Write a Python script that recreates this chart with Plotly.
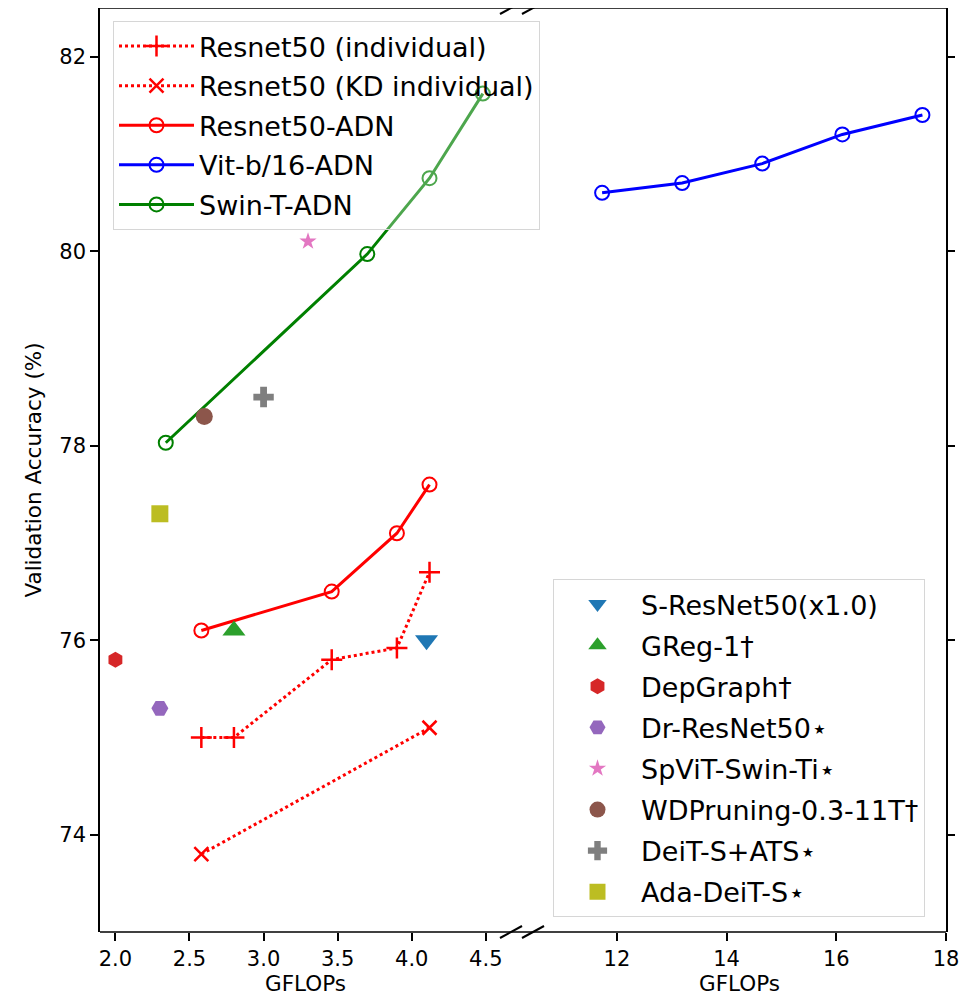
import plotly.graph_objects as go

# ---------------- data ----------------
res_ind_x = [2.58, 2.80, 3.46, 3.90, 4.12]
res_ind_y = [75.0, 75.0, 75.8, 75.92, 76.7]

res_kd_x = [2.58, 4.12]
res_kd_y = [73.8, 75.1]

res_adn_x = [2.58, 3.46, 3.90, 4.12]
res_adn_y = [76.1, 76.5, 77.1, 77.6]

vit_adn_x = [11.73, 13.19, 14.65, 16.11, 17.57]
vit_adn_y = [80.6, 80.7, 80.9, 81.2, 81.4]

swin_adn_x = [2.34, 3.70, 4.12, 4.48]
swin_adn_y = [78.03, 79.97, 80.75, 81.62]

other_names = ["S-ResNet50(x1.0)", "GReg-1†", "DepGraph†", "Dr-ResNet50⋆",
               "SpViT-Swin-Ti⋆", "WDPruning-0.3-11T†", "DeiT-S+ATS⋆", "Ada-DeiT-S⋆"]
other_x = [4.10, 2.80, 2.00, 2.30, 3.30, 2.60, 3.00, 2.30]
other_y = [76.0, 76.1, 75.8, 75.3, 80.1, 78.3, 78.5, 77.3]
other_symbols = ["triangle-down", "triangle-up", "hexagon", "hexagon2",
                 "star", "circle", "cross", "square"]
other_colors = ["#1f77b4", "#2ca02c", "#d62728", "#9467bd",
                "#e377c2", "#8c564b", "#7f7f7f", "#bcbd22"]
other_sizes = [20, 20, 16, 17, 13, 17, 17, 17]

left_ticks = [2.0, 2.5, 3.0, 3.5, 4.0, 4.5]
right_ticks = [12, 14, 16, 18]
y_ticks = [74, 76, 78, 80, 82]

# ---------------- figure ----------------
fig = go.Figure()

LEG_FONT = dict(family="DejaVu Sans", size=27, color="black")

fig.add_trace(go.Scatter(
    x=res_ind_x, y=res_ind_y, mode="lines+markers", name="Resnet50 (individual)",
    line=dict(color="red", width=3, dash="dot"),
    marker=dict(symbol="cross-thin-open", size=15, line=dict(color="red", width=2.5)),
    xaxis="x", yaxis="y", legend="legend", legendgroup="a"))
fig.add_trace(go.Scatter(
    x=res_kd_x, y=res_kd_y, mode="lines+markers", name="Resnet50 (KD individual)",
    line=dict(color="red", width=3, dash="dot"),
    marker=dict(symbol="x-thin-open", size=14, line=dict(color="red", width=2.5)),
    xaxis="x", yaxis="y", legend="legend", legendgroup="b"))
fig.add_trace(go.Scatter(
    x=res_adn_x, y=res_adn_y, mode="lines+markers", name="Resnet50-ADN",
    line=dict(color="red", width=3),
    marker=dict(symbol="circle-open", size=14, color="red", line=dict(color="red", width=2)),
    xaxis="x", yaxis="y", legend="legend", legendgroup="c"))
fig.add_trace(go.Scatter(
    x=vit_adn_x, y=vit_adn_y, mode="lines+markers", name="Vit-b/16-ADN",
    line=dict(color="blue", width=3),
    marker=dict(symbol="circle-open", size=14, color="blue", line=dict(color="blue", width=2)),
    xaxis="x2", yaxis="y2", legend="legend", legendgroup="d"))
fig.add_trace(go.Scatter(
    x=swin_adn_x, y=swin_adn_y, mode="lines+markers", name="Swin-T-ADN",
    line=dict(color="green", width=3),
    marker=dict(symbol="circle-open", size=14, color="green", line=dict(color="green", width=2)),
    xaxis="x", yaxis="y", legend="legend", legendgroup="e"))

for i, nm in enumerate(other_names):
    fig.add_trace(go.Scatter(
        x=[other_x[i]], y=[other_y[i]], mode="markers", name=nm,
        marker=dict(symbol=other_symbols[i], size=other_sizes[i], color=other_colors[i],
                    line=dict(width=0)),
        xaxis="x", yaxis="y", legend="legend2", legendgroup="o%d" % i))

# ---------------- layout ----------------
# page body has an 8px margin; target plot area in page pixels:
OFF = 8
PL, PR, PT, PB = 100, 946, 8, 932
W, H = 979 - OFF, 999 - OFF
L = PL - OFF
T = PT - OFF
R = W + OFF - PR
B = H + OFF - PB
pw = PR - PL
ph = PB - PT
x_left_end = (511 - PL) / pw
x_right_start = (533 - PL) / pw

TICK_FONT = dict(family="DejaVu Sans", size=21, color="black")
TITLE_FONT = dict(family="DejaVu Sans", size=21.5, color="black")

fig.update_layout(
    width=W, height=H,
    margin=dict(l=L, r=R, t=T, b=B),
    plot_bgcolor="white", paper_bgcolor="white",
    xaxis=dict(domain=[0, x_left_end], range=[1.896, 4.67], anchor="y",
               tickvals=left_ticks, tickformat=".1f", ticks="outside", ticklen=8,
               tickwidth=1.5, tickcolor="black", showgrid=False, zeroline=False,
               showline=False, tickfont=TICK_FONT,
               title=dict(text="GFLOPs", font=TITLE_FONT, standoff=2)),
    xaxis2=dict(domain=[x_right_start, 1], range=[10.47, 18.0], anchor="y2",
                tickvals=right_ticks, ticks="outside", ticklen=8,
                tickwidth=1.5, tickcolor="black", showgrid=False, zeroline=False,
                showline=False, tickfont=TICK_FONT,
                title=dict(text="GFLOPs", font=TITLE_FONT, standoff=2)),
    yaxis=dict(range=[73, 82.5], anchor="x", tickvals=y_ticks, ticks="outside",
               ticklen=8, tickwidth=1.5, tickcolor="black", showgrid=False,
               zeroline=False, showline=True, linecolor="black", linewidth=1.5,
               tickfont=TICK_FONT,
               title=dict(text="Validation Accuracy (%)", font=TITLE_FONT, standoff=12)),
    yaxis2=dict(range=[73, 82.5], anchor="x2", side="right", tickvals=y_ticks,
                ticks="outside", ticklen=7, tickwidth=1.5, tickcolor="black",
                showticklabels=False, showgrid=False, zeroline=False, showline=True,
                linecolor="black", linewidth=1.5),
    legend=dict(x=(113 - PL) / pw, y=1 - (21 - PT) / ph, xanchor="left", yanchor="top",
                font=LEG_FONT, bgcolor="rgba(255,255,255,0.3)", bordercolor="#d6d6d6",
                borderwidth=1, tracegroupgap=1.5, traceorder="grouped", itemwidth=75),
    legend2=dict(x=(553 - PL) / pw, y=1 - (579 - PT) / ph, xanchor="left", yanchor="top",
                 font=LEG_FONT, bgcolor="rgba(255,255,255,0.85)", bordercolor="#d6d6d6",
                 borderwidth=1, tracegroupgap=3, traceorder="grouped", itemwidth=77),
    showlegend=True,
)

# frame lines (top & bottom) and break marks
shapes = [
    dict(type="line", xref="paper", yref="paper", x0=0, x1=1, y0=1, y1=1,
         line=dict(color="black", width=1.5)),
    dict(type="line", xref="paper", yref="paper", x0=0, x1=1, y0=0, y1=0,
         line=dict(color="black", width=1.5)),
]
dx = 11 / pw
dy = 6 / ph
for xc in (x_left_end, x_right_start):
    for yc in (0, 1):
        shapes.append(dict(type="line", xref="paper", yref="paper",
                           x0=xc - dx, x1=xc + dx, y0=yc - dy, y1=yc + dy,
                           line=dict(color="black", width=2)))
fig.update_layout(shapes=shapes)

fig.write_html("out.html")
